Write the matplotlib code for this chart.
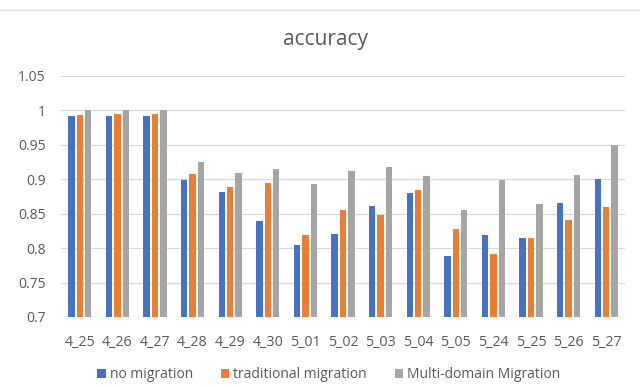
import matplotlib
matplotlib.use("Agg")
import matplotlib.pyplot as plt
import numpy as np
from matplotlib.lines import Line2D

plt.rcParams['font.family'] = ['Open Sans', 'DejaVu Sans']

categories = ["4_25", "4_26", "4_27", "4_28", "4_29", "4_30", "5_01", "5_02",
              "5_03", "5_04", "5_05", "5_24", "5_25", "5_26", "5_27"]
no_migration = [0.991, 0.991, 0.991, 0.898, 0.881, 0.839, 0.804, 0.821,
                0.861, 0.880, 0.789, 0.819, 0.814, 0.865, 0.900]
traditional_migration = [0.993, 0.995, 0.995, 0.908, 0.889, 0.895, 0.819, 0.855,
                         0.848, 0.884, 0.827, 0.792, 0.814, 0.841, 0.860]
multi_domain = [1.0, 1.0, 1.0, 0.925, 0.909, 0.914, 0.893, 0.912,
                0.917, 0.904, 0.855, 0.898, 0.864, 0.906, 0.949]
yticks = [0.7, 0.75, 0.8, 0.85, 0.9, 0.95, 1.0, 1.05]
ytick_labels = ["0.7", "0.75", "0.8", "0.85", "0.9", "0.95", "1", "1.05"]

fig = plt.figure(figsize=(6.4, 3.87), dpi=100)
ax = fig.add_axes([61/640, 70/387, (625-61)/640, (317-75.7)/387])

x = np.arange(len(categories))
w = 0.17
off = 0.225
ax.bar(x - off, no_migration, w, color="#4472C4", label="no migration", zorder=3)
ax.bar(x, traditional_migration, w, color="#ED7D31", label="traditional migration", zorder=3)
ax.bar(x + off, multi_domain, w, color="#A5A5A5", label="Multi-domain Migration", zorder=3)

ax.set_ylim(0.7, 1.05)
ax.set_xlim(-0.5, len(categories) - 0.5)
ax.set_yticks(yticks)
ax.set_yticklabels(ytick_labels)
ax.set_xticks(x)
ax.set_xticklabels(categories)
ax.grid(axis="y", color="#D9D9D9", linewidth=0.9, zorder=0)
for s in ax.spines.values():
    s.set_visible(False)
ax.tick_params(axis="both", length=0, colors="#595959")
ax.tick_params(axis="y", pad=11, labelsize=10)
ax.tick_params(axis="x", pad=13, labelsize=10.3)

fig.text(325/640, 1 - 40/387, "accuracy", ha="center", va="center",
         fontsize=15, color="#595959")

leg = fig.legend(loc="center", bbox_to_anchor=(329/640, 1 - 375/387), ncol=3,
                 frameon=False, fontsize=10, handlelength=0.6, handleheight=0.6,
                 handletextpad=0.3, columnspacing=2.0)
for t in leg.get_texts():
    t.set_color("#595959")

fig.add_artist(Line2D([0, 1], [1 - 10/387, 1 - 10/387], color="#E0E0E0", linewidth=1))

fig.savefig("out.png", dpi=100, facecolor="white")
